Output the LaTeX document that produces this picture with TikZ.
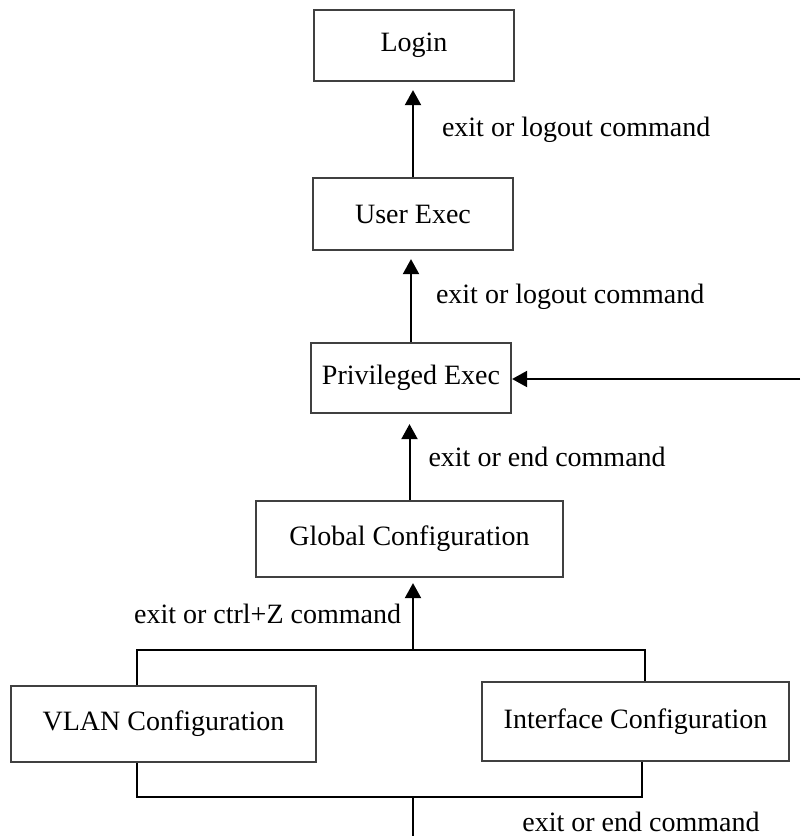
\documentclass[tikz,border=0pt]{standalone}
\usepackage{fontspec}
\setmainfont{Liberation Serif}
\usetikzlibrary{arrows.meta}

\begin{document}
\begin{tikzpicture}[
    x=0.5pt, y=0.5pt,
    >={Triangle[length=7.5pt,width=8pt]},
    every node/.style={font=\fontsize{14}{16}\selectfont},
    modebox/.style={
        draw=black!75,
        line width=1.1pt,
        align=center,
        inner sep=0pt
    },
    wire/.style={line width=1pt},
    arr/.style={->, line width=1pt, shorten >=4pt},
    lbl/.style={inner sep=0pt}
]
    \useasboundingbox (0,0) rectangle (800,-836);

    % Mode boxes
    \node[modebox, minimum width=100pt, minimum height=35.5pt] (login) at (414,-45.5) {Login};
    \node[modebox, minimum width=100pt, minimum height=36pt] (user) at (413,-214) {User Exec};
    \node[modebox, minimum width=100pt, minimum height=35pt] (priv) at (411,-378) {Privileged Exec};
    \node[modebox, minimum width=153.5pt, minimum height=38pt] (global) at (409.5,-539) {Global Configuration};
    \node[modebox, minimum width=152.5pt, minimum height=38pt] (vlan) at (163.5,-724) {VLAN Configuration};
    \node[modebox, minimum width=153.5pt, minimum height=39.5pt] (iface) at (635.5,-721.5) {Interface Configuration};

    % Branch points
    \coordinate (rin) at (800,-379);
    \coordinate (jl) at (137,-650);
    \coordinate (jr) at (645,-650);
    \coordinate (jtop) at (413,-650);
    \coordinate (bl) at (137,-797);
    \coordinate (br) at (642,-797);
    \coordinate (jbot) at (413,-797);
    \coordinate (out) at (413,-836);

    % Exits upwards
    \draw[arr] (user.north) -- node[lbl, right, xshift=14pt] (logouta) {exit or logout command} (user.north |- login.south);
    \draw[arr] (priv.north) -- node[lbl, right, xshift=12pt] (logoutb) {exit or logout command} (priv.north |- user.south);
    \draw[arr, shorten >=5pt] (global.north) -- node[lbl, right, xshift=9pt] (endcmd) {exit or end command} (global.north |- priv.south);
    \draw[arr, shorten >=0pt] (rin) -- (rin -| priv.east);

    % Sub-configuration modes
    \draw[wire] (jl |- vlan.north) -- (jl) -- (jr) -- (jr |- iface.north);
    \draw[arr, shorten >=2.5pt] (jtop) -- node[lbl, left, xshift=-5.5pt] (ctrlz) {exit or ctrl+Z command} (jtop |- global.south);
    \draw[wire] (bl |- vlan.south) -- (bl) -- (br) -- (br |- iface.south);
    \draw[wire] (jbot) -- (out);
    \node[lbl, anchor=west] (endbot) at (522,-822) {exit or end command};

\end{tikzpicture}
\end{document}
